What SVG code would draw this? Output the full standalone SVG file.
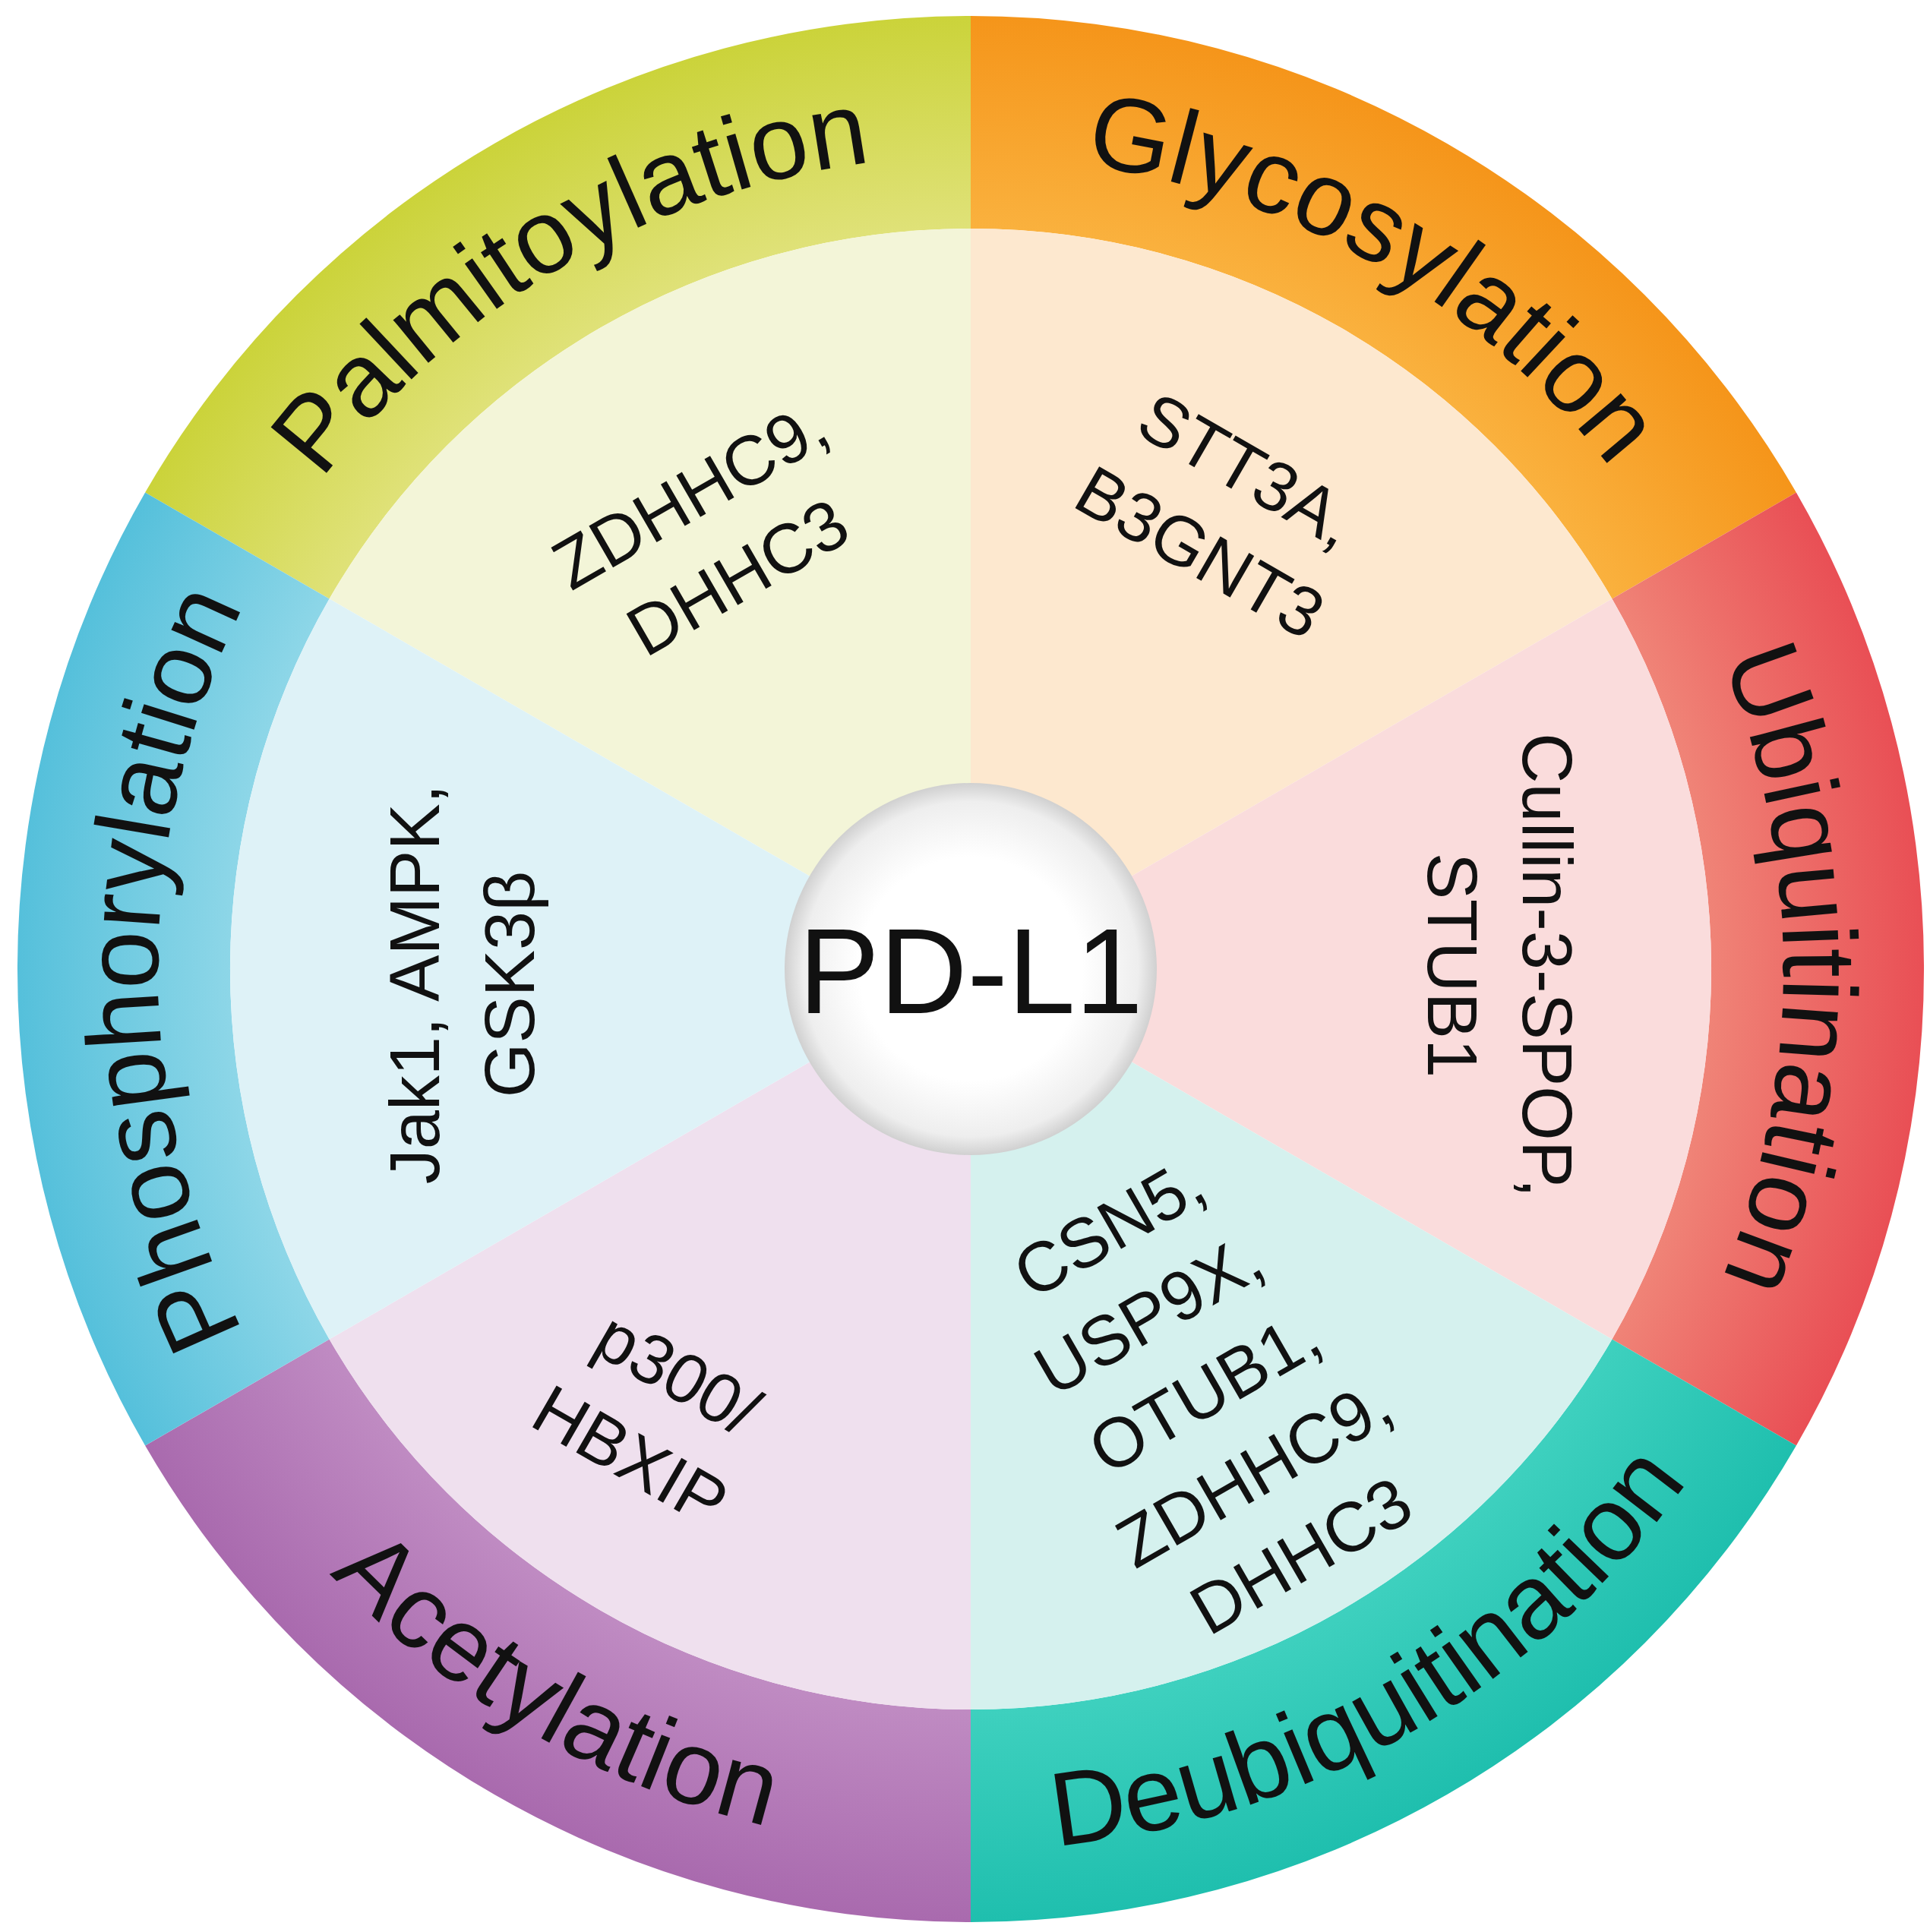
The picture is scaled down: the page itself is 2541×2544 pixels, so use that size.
<svg xmlns="http://www.w3.org/2000/svg" width="2541" height="2544" viewBox="0 0 2541 2544">
<style>
.lab{font-family:"Liberation Sans",Arial,sans-serif;font-size:138px;fill:#111;}
.in{font-family:"Liberation Sans",Arial,sans-serif;font-size:92px;fill:#111;text-anchor:middle;}
.ins{font-family:"Liberation Sans",Arial,sans-serif;font-size:92px;fill:#111;text-anchor:start;}
</style>
<defs>
<radialGradient id="gP" gradientUnits="userSpaceOnUse" cx="1278" cy="1276" r="1255"><stop offset="0.77" stop-color="#e0e27a"/><stop offset="1" stop-color="#cbd33a"/></radialGradient>
<radialGradient id="gG" gradientUnits="userSpaceOnUse" cx="1278" cy="1276" r="1255"><stop offset="0.77" stop-color="#fab23f"/><stop offset="1" stop-color="#f5951a"/></radialGradient>
<radialGradient id="gU" gradientUnits="userSpaceOnUse" cx="1278" cy="1276" r="1255"><stop offset="0.77" stop-color="#f08578"/><stop offset="1" stop-color="#e94f55"/></radialGradient>
<radialGradient id="gD" gradientUnits="userSpaceOnUse" cx="1278" cy="1276" r="1255"><stop offset="0.77" stop-color="#3fd1bf"/><stop offset="1" stop-color="#1fbfae"/></radialGradient>
<radialGradient id="gA" gradientUnits="userSpaceOnUse" cx="1278" cy="1276" r="1255"><stop offset="0.77" stop-color="#c08cc3"/><stop offset="1" stop-color="#a96aae"/></radialGradient>
<radialGradient id="gH" gradientUnits="userSpaceOnUse" cx="1278" cy="1276" r="1255"><stop offset="0.77" stop-color="#8fd7e8"/><stop offset="1" stop-color="#55c0db"/></radialGradient>
<radialGradient id="gC" cx="0.5" cy="0.5" r="0.5"><stop offset="0.6" stop-color="#ffffff"/><stop offset="0.9" stop-color="#eeeeee"/><stop offset="1" stop-color="#d0d0d0"/></radialGradient>
<path id="tP" d="M351.4,741 A1070,1070 0 0 1 1278,206"/>
<path id="tG" d="M1278,206 A1070,1070 0 0 1 2204.6,741"/>
<path id="tU" d="M2204.6,741 A1070,1070 0 0 1 2204.6,1811"/>
<path id="tH" d="M351.4,1811 A1070,1070 0 0 1 351.4,741"/>
<path id="tA" d="M273.4,1856 A1160,1160 0 0 0 1278,2436"/>
<path id="tD" d="M1278,2436 A1160,1160 0 0 0 2282.6,1856"/>
</defs>
<rect width="2541" height="2544" fill="#ffffff"/>
<g id="palmitoylation">
<path d="M191.1,648.5 A1255,1255 0 0 1 1278,21 L1278,301 A975,975 0 0 0 433.6,788.5 Z" fill="url(#gP)"/>
<path d="M1278,1276 L433.6,788.5 A975,975 0 0 1 1278,301 Z" fill="#f3f5d8"/>
<text class="lab"><textPath href="#tP" startOffset="50%" text-anchor="middle">Palmitoylation</textPath></text>
<g transform="translate(937,701) rotate(-30)"><text class="in" x="0" y="-25">ZDHHC9,</text><text class="in" x="0" y="100">DHHC3</text></g>
</g>
<g id="glycosylation">
<path d="M1278,21 A1255,1255 0 0 1 2364.9,648.5 L2122.4,788.5 A975,975 0 0 0 1278,301 Z" fill="url(#gG)"/>
<path d="M1278,1276 L1278,301 A975,975 0 0 1 2122.4,788.5 Z" fill="#fde8cf"/>
<text class="lab"><textPath href="#tG" startOffset="50%" text-anchor="middle">Glycosylation</textPath></text>
<g transform="translate(1614,668) rotate(30)"><text class="in" x="0" y="-25">STT3A,</text><text class="in" x="0" y="100">B3GNT3</text></g>
</g>
<g id="ubiquitination">
<path d="M2364.9,648.5 A1255,1255 0 0 1 2364.9,1903.5 L2122.4,1763.5 A975,975 0 0 0 2122.4,788.5 Z" fill="url(#gU)"/>
<path d="M1278,1276 L2122.4,788.5 A975,975 0 0 1 2122.4,1763.5 Z" fill="#fadcdc"/>
<text class="lab"><textPath href="#tU" startOffset="50%" text-anchor="middle">Ubiquitination</textPath></text>
<g transform="translate(1980,1271) rotate(90)"><text class="in" x="0" y="-25">Cullin-3-SPOP,</text><text class="in" x="0" y="100">STUB1</text></g>
</g>
<g id="deubiquitination">
<path d="M2364.9,1903.5 A1255,1255 0 0 1 1278,2531 L1278,2251 A975,975 0 0 0 2122.4,1763.5 Z" fill="url(#gD)"/>
<path d="M1278,1276 L2122.4,1763.5 A975,975 0 0 1 1278,2251 Z" fill="#d5f1ee"/>
<text class="lab"><textPath href="#tD" startOffset="50%" text-anchor="middle">Deubiquitination</textPath></text>
<g transform="translate(1589,1891) rotate(-30)">
<text class="ins" x="-110" y="-270">CSN5,</text>
<text class="ins" x="-150" y="-145">USP9X,</text>
<text class="ins" x="-140" y="-20">OTUB1,</text>
<text class="ins" x="-170" y="105">ZDHHC9,</text>
<text class="ins" x="-130" y="230">DHHC3</text>
</g>
</g>
<g id="acetylation">
<path d="M1278,2531 A1255,1255 0 0 1 191.1,1903.5 L433.6,1763.5 A975,975 0 0 0 1278,2251 Z" fill="url(#gA)"/>
<path d="M1278,1276 L1278,2251 A975,975 0 0 1 433.6,1763.5 Z" fill="#efe0ee"/>
<text class="lab"><textPath href="#tA" startOffset="50%" text-anchor="middle">Acetylation</textPath></text>
<g transform="translate(864,1858) rotate(30)"><text class="in" x="0" y="-25">p300/</text><text class="in" x="0" y="100">HBXIP</text></g>
</g>
<g id="phosphorylation">
<path d="M191.1,1903.5 A1255,1255 0 0 1 191.1,648.5 L433.6,788.5 A975,975 0 0 0 433.6,1763.5 Z" fill="url(#gH)"/>
<path d="M1278,1276 L433.6,1763.5 A975,975 0 0 1 433.6,788.5 Z" fill="#def2f7"/>
<text class="lab"><textPath href="#tH" startOffset="50%" text-anchor="middle">Phosphorylation</textPath></text>
<g transform="translate(603,1296) rotate(-90)"><text class="in" x="0" y="-25">Jak1, AMPK,</text><text class="in" x="0" y="100">GSK3β</text></g>
</g>
<g id="center">
<circle cx="1278" cy="1276" r="245" fill="url(#gC)"/>
<text x="1278" y="1334" font-family="Liberation Sans, Arial, sans-serif" font-size="160" text-anchor="middle" fill="#111">PD-L1</text>
</g>
<g id="connectors"></g>
</svg>
